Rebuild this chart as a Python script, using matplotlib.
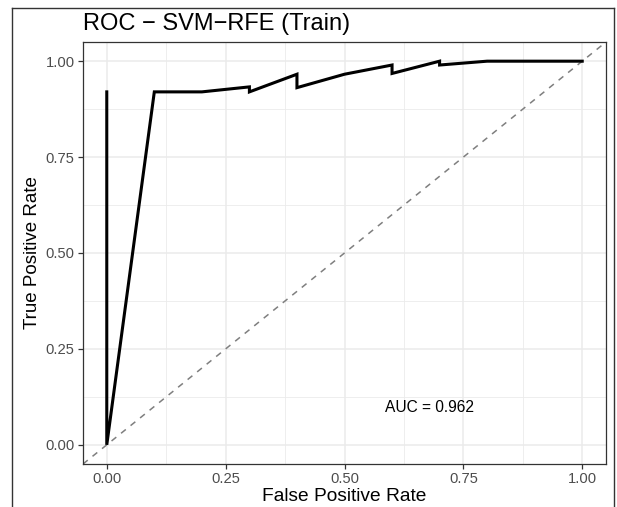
import matplotlib
matplotlib.use("Agg")
import matplotlib.pyplot as plt
from matplotlib.lines import Line2D

plt.rcParams['font.family'] = ['Liberation Sans', 'DejaVu Sans']

# ROC path (in drawing order)
fpr = [0.0, 0.0, 0.1, 0.2, 0.3, 0.3, 0.4, 0.4, 0.5, 0.6, 0.6, 0.7, 0.7, 0.8, 0.9, 1.0]
tpr = [0.92, 0.0, 0.92, 0.92, 0.933, 0.92, 0.966, 0.931, 0.966, 0.99, 0.968, 1.0, 0.99, 1.0, 1.0, 1.0]
ticks = [0.0, 0.25, 0.5, 0.75, 1.0]
tick_labels = ["0.00", "0.25", "0.50", "0.75", "1.00"]
minor_ticks = [0.125, 0.375, 0.625, 0.875]
title = "ROC \u2212 SVM\u2212RFE (Train)"
auc_text = "AUC = 0.962"

fig = plt.figure(figsize=(6.17, 5.07), dpi=100)
ax = fig.add_axes([83/617, 1-464/507, (606-83)/617, (464-42)/507])

ax.set_xlim(-0.05, 1.05)
ax.set_ylim(-0.05, 1.05)

# grid
for v in minor_ticks:
    ax.axvline(v, color='#ebebeb', lw=0.6, zorder=0)
    ax.axhline(v, color='#ebebeb', lw=0.6, zorder=0)
for v in ticks:
    ax.axvline(v, color='#ebebeb', lw=1.1, zorder=0)
    ax.axhline(v, color='#ebebeb', lw=1.1, zorder=0)

ax.plot([-0.05, 1.05], [-0.05, 1.05], color='#7f7f7f', lw=1.1, ls=(0, (4, 4)), zorder=2)
ax.plot(fpr, tpr, color='black', lw=2.2, zorder=3, solid_joinstyle='miter')

ax.text(0.678, 0.096, auc_text, ha='center', va='center', fontsize=11.2, color='black')

ax.set_xticks(ticks)
ax.set_xticklabels(tick_labels)
ax.set_yticks(ticks)
ax.set_yticklabels(tick_labels)
ax.tick_params(axis='both', which='major', length=3.5, width=0.9, color='#333333',
               labelcolor='#4d4d4d', labelsize=10.6, pad=2.5)
for s in ax.spines.values():
    s.set_color('#333333')
    s.set_linewidth(0.9)

ax.set_xlabel("False Positive Rate", fontsize=13.8, labelpad=1, color='black')
ax.set_ylabel("True Positive Rate", fontsize=13.5, labelpad=3, color='black')

fig.text(83/617, 1-24/507, title, ha='left', va='center', fontsize=17, color='black')

# outer frame of the screenshot
fig.add_artist(Line2D([12/617, 12/617], [0, 1-8/507], transform=fig.transFigure, color='#333333', lw=1))
fig.add_artist(Line2D([12/617, 614/617], [1-8/507, 1-8/507], transform=fig.transFigure, color='#333333', lw=1))
fig.add_artist(Line2D([614/617, 614/617], [0, 1-8/507], transform=fig.transFigure, color='#333333', lw=1))

fig.savefig("out.png", dpi=100)
